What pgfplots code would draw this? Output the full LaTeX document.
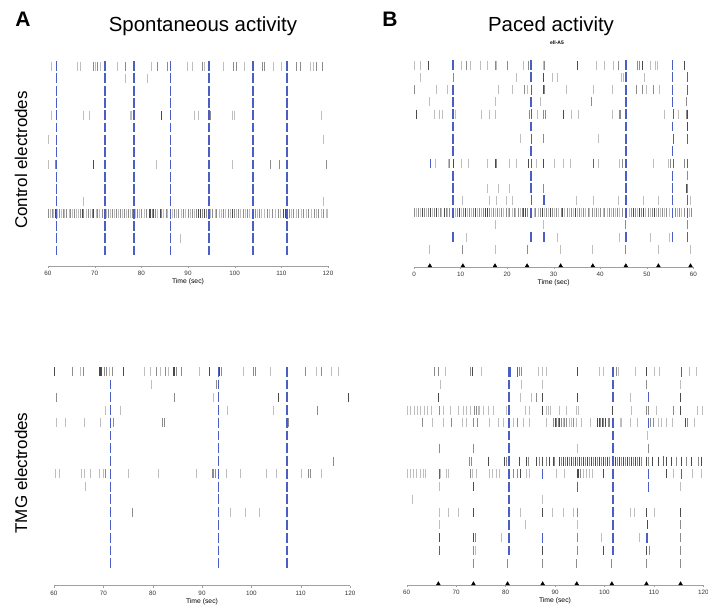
\documentclass[border=0pt]{standalone}
\usepackage{fontspec}
\setmainfont{Liberation Sans}
\usepackage{pgfplots}
\usepackage{pgfplotstable}
\pgfplotsset{compat=1.18}
\definecolor{spkL}{HTML}{BEBEBE}
\definecolor{spkM}{HTML}{8C8C8C}
\definecolor{spkD}{HTML}{4A4A4A}
\definecolor{blu}{HTML}{4A5EC4}
\definecolor{axgray}{HTML}{A0A0A0}

\pgfplotsset{
  raster/.style={scale only axis, axis x line*=bottom, axis y line=none, clip=false,
    ymax=16.8, x axis line style={draw=axgray, line width=0.8pt},
    xtick style={draw=axgray}, tick align=outside, major tick length=2pt,
    ticklabel style={font=\fontsize{6.3}{7}\selectfont, text=black!80},
    /pgf/number format/assume math mode=true,
    xlabel={Time (sec)},
    xlabel style={font=\fontsize{6.8}{8}\selectfont, at={(axis description cs:0.5,0)}, anchor=center, yshift=-16pt}},
  spikes/.style={scatter, only marks, mark=|, scatter src=explicit symbolic,
    scatter/classes={
      l={mark=|, draw=spkL, line width=1.0pt, mark size=4.5pt},
      m={mark=|, draw=spkM, line width=1.0pt, mark size=4.5pt},
      d={mark=|, draw=spkD, line width=1.0pt, mark size=4.5pt},
      b={mark=|, draw=blu, line width=1.4pt, mark size=4.9pt}}},
  bluecol/.style={only marks, mark=|, draw=blu, line width=1.4pt, mark size=4.9pt},
}

% rows of the blue dashed lines
\pgfplotstableread[row sep=\\]{r k\\1 0\\2 0\\3 0\\4 0\\5 0\\6 0\\7 0\\8 0\\9 0\\10 0\\11 0\\12 0\\13 0\\14 0\\15 0\\16 0\\}\allrows
\pgfplotstableread[row sep=\\]{r k\\2 0\\3 0\\4 0\\5 0\\6 0\\7 0\\8 0\\9 0\\10 0\\11 0\\12 0\\13 0\\14 0\\15 0\\16 0\\}\lowrows

% A, control electrodes
\pgfplotstableread[row sep=\\]{t r c\\
60.7 1 l\\66.4 1 l\\66.9 1 l\\69.8 1 m\\70.2 1 l\\70.7 1 m\\71.2 1 l\\74.9 1 l\\76.5 1 m\\82.2 1 l\\83.4 1 m\\85.6 1 m\\89.9 1 l\\91.0 1 l\\93.1 1 m\\93.6 1 l\\97.6 1 l\\99.7 1 m\\100.4 1 m\\102.2 1 l\\106.0 1 m\\106.3 1 m\\108.3 1 l\\110.1 1 l\\113.3 1 m\\114.2 1 m\\116.2 1 l\\116.9 1 l\\117.6 1 m\\118.9 1 m\\
76.7 2 l\\81.3 2 l\\
60.7 5 l\\67.7 5 l\\68.8 5 l\\77.7 5 l\\77.9 5 l\\84.3 5 d\\91.4 5 l\\92.2 5 l\\94.7 5 m\\94.9 5 m\\99.6 5 l\\99.9 5 l\\118.5 5 l\\
60.1 7 l\\119.1 7 l\\
60.2 9 l\\61.6 9 m\\61.9 9 d\\69.8 9 d\\83.3 9 l\\99.6 9 l\\104.0 9 d\\107.6 9 m\\109.7 9 m\\111.0 9 d\\111.3 9 d\\119.6 9 m\\
67.7 12 l\\86.3 12 d\\119.1 12 l\\
88.3 15 l\\
60.2 13 m\\60.5 13 l\\60.9 13 m\\61.2 13 l\\61.6 13 d\\62.1 13 l\\62.4 13 m\\62.9 13 l\\63.3 13 m\\63.6 13 l\\64.0 13 m\\64.5 13 l\\64.9 13 m\\65.2 13 l\\65.7 13 m\\66.1 13 l\\66.5 13 l\\66.9 13 m\\67.4 13 d\\67.7 13 m\\68.2 13 l\\68.6 13 m\\69.0 13 l\\69.5 13 m\\69.8 13 d\\70.3 13 l\\70.7 13 m\\71.1 13 l\\71.6 13 m\\72.5 13 l\\72.9 13 m\\73.4 13 l\\73.8 13 m\\74.3 13 l\\74.7 13 m\\75.0 13 l\\75.5 13 m\\75.9 13 l\\76.4 13 m\\76.8 13 l\\77.3 13 m\\77.7 13 l\\78.0 13 m\\78.8 13 l\\79.2 13 m\\79.6 13 l\\80.1 13 m\\80.6 13 l\\81.0 13 m\\81.7 13 d\\82.0 13 d\\82.3 13 m\\82.7 13 d\\83.1 13 m\\83.5 13 l\\84.0 13 d\\84.4 13 m\\84.8 13 l\\85.3 13 m\\85.7 13 l\\86.6 13 l\\87.1 13 m\\87.6 13 l\\88.0 13 m\\88.6 13 l\\89.1 13 m\\89.5 13 l\\90.0 13 m\\90.5 13 l\\91.0 13 m\\91.4 13 l\\91.9 13 m\\92.3 13 d\\92.7 13 d\\93.1 13 m\\93.5 13 d\\93.9 13 m\\94.8 13 l\\95.3 13 m\\95.8 13 l\\96.2 13 m\\96.7 13 l\\97.2 13 l\\97.7 13 m\\98.1 13 l\\98.6 13 m\\99.0 13 l\\99.5 13 d\\99.9 13 m\\100.4 13 l\\100.9 13 m\\101.3 13 l\\101.8 13 m\\102.3 13 l\\102.7 13 m\\103.2 13 l\\104.4 13 m\\104.9 13 l\\105.4 13 m\\105.8 13 l\\106.4 13 l\\107.0 13 m\\107.5 13 l\\108.1 13 m\\108.7 13 l\\109.3 13 m\\109.8 13 l\\110.4 13 d\\110.8 13 d\\111.7 13 m\\112.2 13 l\\112.7 13 m\\113.2 13 l\\113.7 13 m\\114.3 13 l\\114.8 13 m\\115.3 13 l\\115.9 13 m\\116.4 13 l\\117.0 13 m\\117.5 13 l\\118.0 13 m\\118.6 13 l\\119.1 13 m\\119.6 13 l\\119.9 13 l\\
}\spontCtrl

% B, control electrodes
\pgfplotstableread[row sep=\\]{t r c\\
0.2 1 l\\1.4 1 l\\3.1 1 d\\10.2 1 l\\11.2 1 m\\12.2 1 l\\14.3 1 l\\15.7 1 l\\17.4 1 m\\17.8 1 l\\20.0 1 m\\23.6 1 l\\24.6 1 m\\27.8 1 l\\28.1 1 m\\35.1 1 d\\39.1 1 l\\41.0 1 l\\42.8 1 l\\43.9 1 m\\48.0 1 m\\48.5 1 m\\49.1 1 d\\50.7 1 l\\51.8 1 l\\52.3 1 l\\58.0 1 d\\
1.3 2 l\\8.4 2 m\\22.0 2 l\\27.9 2 d\\29.8 2 l\\30.8 2 l\\44.6 2 l\\45.0 2 l\\49.6 2 l\\
0.2 3 m\\4.9 3 l\\7.2 3 l\\18.1 3 l\\21.2 3 l\\23.8 3 m\\24.3 3 l\\27.9 3 d\\28.0 3 m\\32.8 3 l\\38.5 3 l\\42.7 3 l\\47.8 3 m\\49.1 3 m\\50.0 3 l\\51.5 3 m\\52.8 3 l\\
3.3 4 l\\17.4 4 l\\27.1 4 l\\38.2 4 m\\58.6 4 m\\
0.6 5 d\\4.5 5 l\\5.4 5 l\\6.2 5 l\\9.0 5 l\\14.5 5 l\\16.3 5 l\\17.6 5 l\\24.9 5 m\\26.5 5 l\\27.8 5 m\\28.3 5 m\\32.1 5 d\\33.9 5 l\\35.3 5 l\\42.7 5 l\\44.1 5 m\\44.4 5 m\\53.9 5 l\\56.8 5 l\\58.6 5 m\\58.8 5 d\\
58.7 6 d\\
22.8 7 l\\27.9 7 m\\39.6 7 l\\
4.7 9 l\\7.4 9 l\\7.7 9 m\\8.4 9 d\\10.2 9 l\\11.7 9 l\\15.7 9 l\\17.4 9 d\\17.8 9 m\\20.6 9 l\\22.0 9 l\\24.6 9 d\\26.3 9 l\\27.8 9 d\\30.1 9 l\\32.1 9 l\\33.6 9 l\\39.6 9 l\\44.2 9 l\\44.8 9 m\\51.4 9 l\\54.6 9 l\\55.1 9 m\\58.2 9 m\\
58.7 10 m\\
15.7 11 l\\18.1 11 l\\20.6 11 l\\27.9 11 m\\58.6 11 d\\58.8 11 m\\
10.5 12 l\\16.2 12 l\\17.8 12 l\\19.8 12 l\\21.2 12 l\\34.9 12 l\\38.5 12 l\\43.9 12 l\\49.4 12 l\\52.5 12 l\\59.4 12 l\\
17.4 14 l\\27.9 14 l\\45.5 14 m\\58.7 14 m\\
11.3 15 l\\30.8 15 l\\44.1 15 l\\50.7 15 l\\54.8 15 l\\
3.4 16 l\\10.5 16 m\\17.4 16 l\\24.3 16 m\\31.5 16 l\\38.4 16 l\\45.5 16 m\\52.5 16 l\\59.4 16 l\\
0.2 13 m\\0.6 13 l\\1.0 13 m\\1.4 13 l\\1.9 13 d\\2.3 13 m\\2.7 13 l\\3.1 13 m\\3.5 13 d\\3.9 13 l\\4.3 13 m\\4.8 13 d\\5.2 13 l\\5.6 13 m\\6.0 13 l\\6.5 13 d\\6.9 13 m\\7.3 13 l\\7.7 13 m\\8.9 13 l\\9.3 13 m\\9.7 13 d\\10.2 13 l\\10.6 13 m\\11.0 13 d\\11.5 13 l\\11.9 13 m\\12.4 13 l\\12.8 13 m\\13.2 13 d\\13.7 13 l\\14.1 13 m\\14.6 13 l\\15.0 13 m\\15.4 13 d\\15.8 13 d\\16.3 13 m\\16.7 13 l\\17.1 13 m\\17.6 13 l\\18.0 13 m\\18.4 13 l\\18.9 13 m\\19.3 13 l\\19.8 13 m\\20.2 13 l\\20.6 13 m\\21.1 13 l\\21.5 13 m\\21.9 13 l\\22.4 13 m\\22.8 13 l\\23.2 13 m\\23.6 13 d\\24.0 13 d\\24.4 13 m\\25.8 13 l\\26.2 13 m\\26.7 13 l\\27.1 13 m\\27.5 13 d\\28.0 13 l\\28.4 13 m\\28.9 13 l\\29.3 13 d\\29.8 13 m\\30.2 13 l\\30.7 13 m\\31.1 13 l\\31.6 13 m\\32.0 13 d\\32.4 13 l\\32.9 13 m\\33.3 13 l\\33.8 13 m\\34.2 13 l\\34.7 13 d\\35.1 13 l\\35.6 13 m\\36.0 13 l\\36.5 13 m\\36.9 13 l\\37.4 13 m\\37.8 13 l\\38.3 13 m\\38.8 13 l\\39.2 13 m\\39.7 13 l\\40.1 13 m\\40.6 13 l\\41.0 13 m\\41.5 13 l\\42.0 13 m\\42.4 13 l\\42.9 13 m\\43.3 13 l\\43.8 13 m\\44.2 13 l\\44.7 13 m\\46.2 13 l\\46.7 13 m\\47.1 13 d\\47.6 13 m\\48.0 13 l\\48.5 13 d\\48.9 13 m\\49.4 13 d\\49.8 13 l\\50.3 13 m\\50.7 13 l\\51.2 13 m\\51.6 13 d\\52.1 13 l\\52.5 13 m\\53.0 13 l\\53.4 13 m\\53.9 13 l\\54.3 13 m\\54.8 13 l\\56.2 13 m\\56.6 13 l\\57.1 13 m\\57.5 13 l\\58.0 13 m\\59.2 13 l\\59.6 13 m\\
8.4 1 b\\25.1 1 b\\45.5 1 b\\55.5 1 b\\
25.1 2 b\\45.5 2 b\\55.5 2 b\\58.7 2 b\\
8.4 3 b\\25.3 3 b\\45.5 3 b\\55.5 3 b\\58.7 3 b\\
8.4 4 b\\25.1 4 b\\45.5 4 b\\55.5 4 b\\
8.4 5 b\\25.2 5 b\\45.5 5 b\\55.7 5 b\\
8.4 6 b\\25.1 6 b\\45.5 6 b\\55.5 6 b\\
8.4 7 b\\25.3 7 b\\45.5 7 b\\55.7 7 b\\58.7 7 b\\
8.4 8 b\\25.1 8 b\\45.5 8 b\\55.5 8 b\\
3.6 9 b\\25.2 9 b\\38.5 9 b\\45.5 9 b\\55.7 9 b\\58.7 9 b\\
8.4 10 b\\25.1 10 b\\45.5 10 b\\55.5 10 b\\
8.4 11 b\\25.1 11 b\\45.5 11 b\\55.5 11 b\\
8.4 12 b\\25.2 12 b\\27.9 12 b\\45.5 12 b\\55.5 12 b\\58.7 12 b\\
8.4 13 b\\25.1 13 b\\45.5 13 b\\55.5 13 b\\58.7 13 b\\
8.4 15 b\\25.1 15 b\\27.9 15 b\\45.5 15 b\\55.5 15 b\\58.7 15 b\\
}\pacedCtrl

% A, TMG electrodes
\pgfplotstableread[row sep=\\]{t r c\\
60.2 1 d\\63.7 1 m\\65.3 1 l\\65.9 1 m\\69.3 1 d\\69.5 1 d\\69.7 1 d\\70.3 1 m\\70.7 1 m\\71.2 1 l\\71.9 1 m\\74.1 1 d\\78.4 1 l\\79.5 1 l\\80.8 1 m\\81.6 1 l\\82.5 1 m\\83.2 1 l\\84.2 1 d\\84.5 1 d\\84.9 1 m\\85.9 1 m\\89.5 1 l\\91.6 1 d\\93.6 1 d\\94.0 1 m\\98.4 1 l\\100.5 1 m\\100.9 1 m\\103.8 1 l\\110.9 1 m\\113.2 1 l\\114.3 1 m\\116.3 1 l\\117.6 1 l\\
79.8 2 l\\93.0 2 m\\
60.5 3 m\\84.5 3 m\\92.3 3 l\\105.5 3 d\\105.6 3 d\\119.7 3 d\\
70.5 4 l\\73.5 4 l\\95.1 4 l\\104.5 4 l\\113.4 4 m\\
60.5 5 l\\62.4 5 l\\66.1 5 l\\69.5 5 l\\72.0 5 m\\82.0 5 m\\82.3 5 m\\107.6 5 m\\
116.6 8 m\\
60.4 9 l\\61.1 9 l\\65.6 9 l\\66.1 9 l\\67.3 9 l\\69.3 9 l\\70.0 9 l\\70.5 9 m\\75.1 9 l\\81.1 9 l\\88.9 9 l\\92.2 9 m\\92.4 9 m\\92.8 9 m\\94.9 9 l\\97.8 9 l\\103.1 9 l\\105.1 9 l\\110.2 9 l\\111.6 9 m\\111.9 9 m\\114.3 9 l\\
66.4 10 l\\
75.9 12 m\\95.8 12 l\\98.9 12 l\\101.6 12 l\\
}\spontTMG

% B, TMG electrodes
\pgfplotstableread[row sep=\\]{t r c\\
65.7 1 m\\66.4 1 m\\67.8 1 l\\72.9 1 m\\73.4 1 d\\75.2 1 l\\82.8 1 m\\83.3 1 m\\86.6 1 l\\87.5 1 l\\88.3 1 l\\94.5 1 d\\99.0 1 l\\99.8 1 l\\102.5 1 m\\102.8 1 l\\106.2 1 l\\108.5 1 d\\110.2 1 l\\111.2 1 l\\117.3 1 l\\118.7 1 l\\
66.9 2 l\\83.3 2 l\\87.5 2 l\\108.5 2 m\\115.4 2 l\\
66.4 3 d\\83.1 3 l\\85.3 3 l\\86.3 3 m\\87.5 3 d\\94.5 3 d\\105.2 3 l\\115.4 3 d\\
60.1 4 l\\60.8 4 l\\61.5 4 l\\62.2 4 l\\62.8 4 l\\63.5 4 l\\64.2 4 l\\65.1 4 l\\66.7 4 m\\67.4 4 l\\68.8 4 l\\70.5 4 l\\71.5 4 l\\72.1 4 l\\72.9 4 l\\73.8 4 m\\74.2 4 m\\74.5 4 l\\74.8 4 l\\75.5 4 l\\76.5 4 l\\77.5 4 l\\80.1 4 l\\84.0 4 l\\84.8 4 l\\87.5 4 d\\88.3 4 l\\88.7 4 l\\89.0 4 l\\90.9 4 l\\92.4 4 l\\94.4 4 l\\94.7 4 l\\101.7 4 d\\105.5 4 l\\108.5 4 m\\108.9 4 m\\110.6 4 l\\113.9 4 m\\115.4 4 d\\118.8 4 l\\119.9 4 l\\
63.2 5 m\\65.3 5 l\\67.4 5 l\\69.1 5 m\\71.3 5 l\\72.1 5 l\\73.6 5 m\\74.3 5 m\\76.7 5 l\\78.5 5 l\\79.6 5 l\\81.7 5 l\\82.4 5 m\\83.6 5 l\\84.8 5 l\\88.3 5 l\\89.7 5 m\\90.0 5 d\\90.3 5 m\\90.7 5 m\\91.0 5 d\\91.3 5 m\\91.7 5 l\\92.0 5 m\\92.4 5 m\\92.9 5 l\\93.4 5 l\\93.7 5 m\\94.4 5 l\\95.4 5 l\\97.1 5 l\\98.6 5 d\\99.0 5 d\\99.2 5 m\\99.6 5 d\\99.9 5 m\\100.3 5 d\\100.8 5 m\\101.1 5 m\\103.2 5 l\\103.5 5 l\\105.2 5 l\\106.7 5 l\\109.4 5 m\\109.9 5 m\\110.9 5 l\\111.6 5 l\\112.6 5 l\\113.8 5 l\\116.3 5 d\\116.8 5 m\\118.3 5 l\\
108.7 6 l\\
66.6 7 m\\73.6 7 m\\94.5 7 l\\108.9 7 m\\
72.7 8 m\\73.1 8 m\\76.5 8 d\\79.7 8 d\\80.1 8 m\\82.8 8 d\\84.3 8 d\\84.6 8 m\\86.2 8 d\\86.8 8 m\\87.5 8 d\\88.2 8 m\\88.9 8 d\\89.7 8 d\\89.9 8 m\\90.9 8 d\\91.4 8 m\\91.8 8 d\\92.2 8 m\\92.6 8 d\\93.0 8 m\\93.4 8 d\\93.8 8 m\\94.2 8 d\\94.6 8 m\\95.0 8 d\\95.4 8 m\\95.8 8 d\\96.2 8 m\\96.6 8 d\\97.0 8 m\\97.4 8 d\\97.8 8 m\\98.2 8 d\\98.6 8 m\\99.0 8 d\\99.4 8 m\\99.8 8 d\\100.2 8 m\\100.6 8 d\\101.0 8 m\\102.3 8 d\\102.7 8 m\\103.1 8 d\\103.5 8 m\\103.9 8 d\\104.3 8 m\\104.7 8 d\\105.1 8 m\\105.5 8 d\\105.9 8 m\\106.3 8 d\\106.7 8 m\\107.1 8 d\\107.5 8 m\\108.6 8 d\\109.0 8 m\\109.8 8 d\\110.9 8 d\\112.6 8 d\\113.6 8 d\\114.6 8 m\\115.6 8 d\\116.5 8 m\\117.7 8 d\\119.0 8 m\\119.6 8 d\\
60.1 9 l\\60.7 9 l\\61.3 9 l\\62.0 9 l\\62.7 9 l\\63.4 9 l\\63.9 9 l\\66.9 9 l\\68.1 9 l\\68.4 9 l\\72.9 9 m\\73.4 9 l\\74.2 9 l\\76.7 9 l\\77.4 9 l\\78.1 9 l\\78.7 9 l\\81.6 9 m\\82.4 9 m\\83.1 9 d\\84.3 9 l\\84.9 9 l\\90.3 9 l\\92.0 9 l\\94.5 9 d\\94.7 9 d\\95.1 9 m\\95.7 9 l\\96.3 9 l\\97.0 9 l\\97.6 9 l\\99.8 9 d\\112.6 9 d\\113.9 9 l\\117.9 9 l\\119.7 9 l\\
66.6 10 l\\73.6 10 d\\115.4 10 l\\
61.2 11 l\\87.5 11 l\\
66.6 12 l\\68.4 12 l\\70.5 12 l\\73.5 12 d\\83.1 12 l\\87.5 12 d\\89.5 12 l\\91.7 12 l\\93.7 12 l\\94.5 12 m\\105.2 12 l\\106.0 12 l\\108.5 12 d\\110.2 12 l\\115.4 12 d\\
66.6 13 l\\84.0 13 l\\94.5 13 l\\108.7 13 d\\115.4 13 m\\
66.6 14 d\\73.6 14 d\\74.0 14 m\\79.2 14 l\\94.5 14 m\\99.4 14 l\\107.1 14 l\\115.4 14 m\\
73.6 15 m\\74.0 15 l\\87.5 15 d\\94.5 15 m\\99.8 15 d\\108.6 15 d\\109.2 15 m\\115.4 15 m\\
73.5 16 m\\80.4 16 m\\87.5 16 m\\94.4 16 m\\101.5 16 m\\108.5 16 m\\115.4 16 m\\
80.6 1 b\\80.9 1 b\\82.4 1 b\\101.7 1 b\\115.6 1 b\\
80.7 2 b\\101.7 2 b\\
80.7 3 b\\101.7 3 b\\108.9 3 b\\
80.7 4 b\\
80.7 5 b\\101.7 5 b\\108.9 5 b\\
80.7 6 b\\101.7 6 b\\
80.7 7 b\\101.7 7 b\\
80.7 8 b\\101.7 8 b\\111.9 8 b\\
66.6 9 b\\80.7 9 b\\87.5 9 b\\101.7 9 b\\108.9 9 b\\115.6 9 b\\
80.7 10 b\\94.5 10 b\\101.7 10 b\\108.9 10 b\\
80.7 11 b\\101.7 11 b\\
80.7 12 b\\101.7 12 b\\
80.7 13 b\\101.7 13 b\\
80.7 14 b\\87.5 14 b\\101.7 14 b\\108.6 14 b\\
66.6 15 b\\80.7 15 b\\101.7 15 b\\
}\pacedTMG

\begin{document}
\begin{tikzpicture}
\path[use as bounding box] (0,0) rectangle (708pt,-607pt);

% A top
\begin{axis}[raster, at={(48pt,-266pt)}, anchor=south west,
  width=280pt, height=209.8pt, xmin=60, xmax=120, ymin=-0.26,
  xtick={60,70,...,120}]
\addplot[spikes] table[x=t, y expr=17-\thisrow{r}, meta=c] \spontCtrl;
\addplot[bluecol] table[x expr=61.8, y expr=17-\thisrow{r}] \allrows;
\addplot[bluecol] table[x expr=72.2, y expr=17-\thisrow{r}] \allrows;
\addplot[bluecol] table[x expr=78.4, y expr=17-\thisrow{r}] \allrows;
\addplot[bluecol] table[x expr=86.3, y expr=17-\thisrow{r}] \allrows;
\addplot[bluecol] table[x expr=94.5, y expr=17-\thisrow{r}] \allrows;
\addplot[bluecol] table[x expr=103.9, y expr=17-\thisrow{r}] \allrows;
\addplot[bluecol] table[x expr=111.2, y expr=17-\thisrow{r}] \allrows;
\end{axis}

% B top
\begin{axis}[raster, at={(414pt,-267pt)}, anchor=south west,
  width=279.3pt, height=211.8pt, xmin=0, xmax=60, ymin=-0.42,
  xtick={0,10,...,60}]
\addplot[spikes] table[x=t, y expr=17-\thisrow{r}, meta=c] \pacedCtrl;
\addplot[only marks, mark=triangle*, mark size=2.2pt, black]
  coordinates {(3.4,-0.33) (10.5,-0.33) (17.4,-0.33) (24.3,-0.33) (31.5,-0.33) (38.4,-0.33) (45.5,-0.33) (52.5,-0.33) (59.4,-0.33)};
\end{axis}

% A bottom
\begin{axis}[raster, at={(54pt,-585.7pt)}, anchor=south west,
  width=296pt, height=224.2pt, xmin=60, xmax=120, ymin=-0.76,
  xtick={60,70,...,120}]
\addplot[spikes] table[x=t, y expr=17-\thisrow{r}, meta=c] \spontTMG;
\addplot[bluecol] table[x expr=71.5, y expr=17-\thisrow{r}] \lowrows;
\addplot[bluecol] table[x expr=93.3, y expr=17-\thisrow{r}] \allrows;
\addplot[bluecol] table[x expr=107.2, y expr=17-\thisrow{r}] \allrows;
\end{axis}

% B bottom
\begin{axis}[raster, at={(406.7pt,-585pt)}, anchor=south west,
  width=296.6pt, height=223.5pt, xmin=60, xmax=120, ymin=-0.70,
  xtick={60,70,...,120}]
\addplot[spikes] table[x=t, y expr=17-\thisrow{r}, meta=c] \pacedTMG;
\addplot[only marks, mark=triangle*, mark size=2.2pt, black]
  coordinates {(66.4,-0.61) (73.5,-0.61) (80.4,-0.61) (87.5,-0.61) (94.4,-0.61) (101.5,-0.61) (108.5,-0.61) (115.4,-0.61)};
\end{axis}

% panel letters, titles, row labels
\node[anchor=base, font=\bfseries\fontsize{21}{24}\selectfont] at (23pt,-27pt) {A};
\node[anchor=base, font=\bfseries\fontsize{21}{24}\selectfont] at (390pt,-27pt) {B};
\node[anchor=base, font=\fontsize{20.4}{24}\selectfont] at (203pt,-32pt) {Spontaneous activity};
\node[anchor=base, font=\fontsize{20.4}{24}\selectfont] at (551pt,-32pt) {Paced activity};
\node[font=\bfseries\fontsize{5}{6}\selectfont] at (557pt,-43pt) {ell-A5};
\node[rotate=90, anchor=base, font=\fontsize{17}{20}\selectfont] at (27pt,-160pt) {Control electrodes};
\node[rotate=90, anchor=base, font=\fontsize{17}{20}\selectfont] at (27pt,-473pt) {TMG electrodes};
\end{tikzpicture}
\end{document}
